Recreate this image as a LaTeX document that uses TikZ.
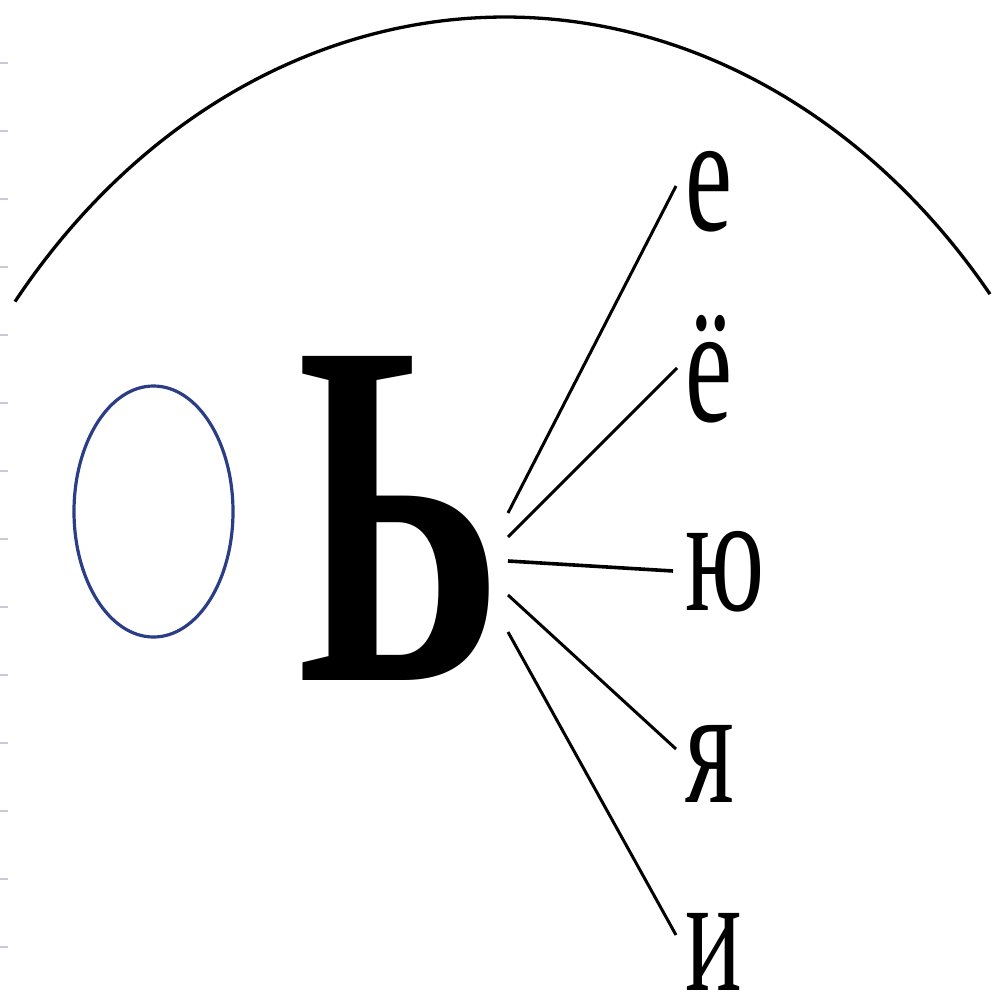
\documentclass[tikz,border=0pt]{standalone}
\usepackage{fontspec}
\usepackage{graphicx}
\setmainfont{Liberation Serif}
\definecolor{ringblue}{HTML}{2B3E85}
\definecolor{tickgray}{HTML}{C8CAD6}
\newcommand{\narrow}[1]{\scalebox{0.63}[1]{#1}}
\begin{document}
\begin{tikzpicture}[x=1pt,y=-1pt,
    letter/.style={anchor=base west,inner sep=0pt,font=\fontsize{168}{168}\selectfont},
    fanline/.style={line width=3pt}]
    \useasboundingbox (0,0) rectangle (992,992);

    % marks along the left edge
    \foreach \k in {0,...,13}
        \draw[tickgray,line width=1.5pt] (0,63+68*\k) -- (8,63+68*\k);

    % big arc
    \draw[line width=3.3pt] (15,301.6) arc[start angle=141.06,end angle=39.66,x radius=630pt,y radius=766pt];

    \draw[ringblue,line width=3.2pt] (153.5,511.5) ellipse (79.5pt and 125.5pt);

    \node[anchor=base west,inner sep=0pt,font=\bfseries\fontsize{495}{495}\selectfont] (soft) at (297,680) {\narrow{Ь}};

    \node[letter] (le) at (685,231) {\narrow{е}};
    \node[letter] (lyo) at (685,421) {\narrow{ё}};
    \node[letter] (lyu) at (685,610) {\narrow{ю}};
    \node[letter] (lya) at (685,802) {\narrow{я}};
    \node[letter] (li) at (685,990) {\narrow{и}};

    % fan from the soft sign
    \coordinate (fe) at (508,513);
    \coordinate (fyo) at (508,537);
    \coordinate (fyu) at (508,561);
    \coordinate (fya) at (508,595);
    \coordinate (fi) at (508,632);
    \coordinate (ee) at (676,186);
    \coordinate (eyo) at (677,368);
    \coordinate (eyu) at (673,571);
    \coordinate (eya) at (676,749);
    \coordinate (ei) at (676,935);
    \draw[fanline] (fe) -- (ee);
    \draw[fanline] (fyo) -- (eyo);
    \draw[fanline,line width=3.6pt] (fyu) -- (eyu);
    \draw[fanline] (fya) -- (eya);
    \draw[fanline] (fi) -- (ei);
\end{tikzpicture}
\end{document}
